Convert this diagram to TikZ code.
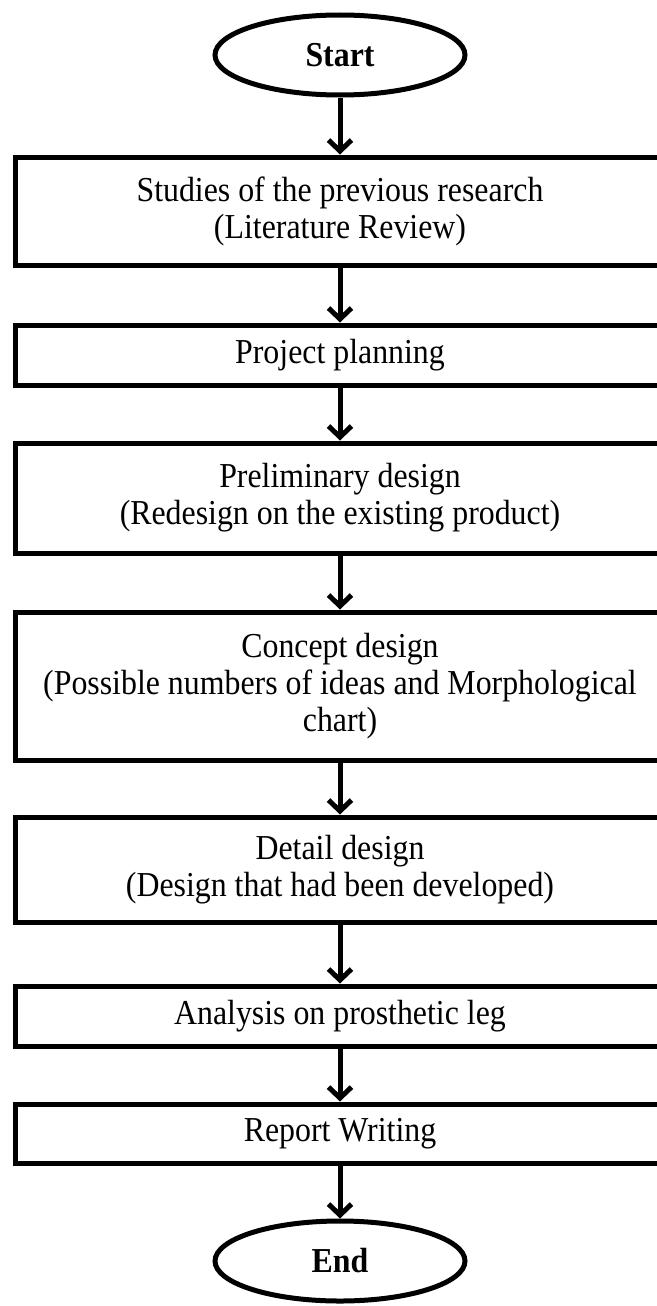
\documentclass[tikz,border=0pt]{standalone}
\usepackage{fontspec}
\setmainfont{Liberation Serif}[FakeStretch=0.91]
\usetikzlibrary{arrows.meta,shapes.geometric}
\tikzset{
  stepbox/.style={draw=black, line width=5pt, rectangle, minimum width=650pt, inner sep=0pt, align=center,
    font=\fontsize{35}{37}\selectfont},
  term/.style={draw=black, line width=5pt, ellipse, minimum width=250pt, minimum height=80pt, inner sep=0pt,
    font=\fontsize{35}{37}\selectfont\bfseries},
  arr/.style={line width=5pt, -{Straight Barb[length=11pt,width=23pt,line width=5pt]}}
}
\begin{document}
\begin{tikzpicture}[x=1pt,y=-1pt]
\useasboundingbox (0,0) rectangle (656,1306);
\node[term] (start) at (340,55) {Start};
\node[stepbox, minimum height=108pt] (b1) at (340,211) {Studies of the previous research\\(Literature Review)};
\node[stepbox, minimum height=60pt] (b2) at (340,355) {Project planning};
\node[stepbox, minimum height=110pt] (b3) at (340,498) {Preliminary design\\(Redesign on the existing product)};
\node[stepbox, minimum height=148pt] (b4) at (340,686) {Concept design\\(Possible numbers of ideas and Morphological\\chart)};
\node[stepbox, minimum height=105pt] (b5) at (340,869.5) {Detail design\\(Design that had been developed)};
\node[stepbox, minimum height=60pt] (b6) at (340,1016) {Analysis on prosthetic leg};
\node[stepbox, minimum height=59pt] (b7) at (340,1133.5) {Report Writing};
\node[term] (end) at (340,1261) {End};
\draw[arr] (start.south) -- (b1.north);
\draw[arr] (b1.south) -- (b2.north);
\draw[arr] (b2.south) -- (b3.north);
\draw[arr] (b3.south) -- (b4.north);
\draw[arr] (b4.south) -- (b5.north);
\draw[arr] (b5.south) -- (b6.north);
\draw[arr] (b6.south) -- (b7.north);
\draw[arr] (b7.south) -- (end.north);
\end{tikzpicture}
\end{document}
